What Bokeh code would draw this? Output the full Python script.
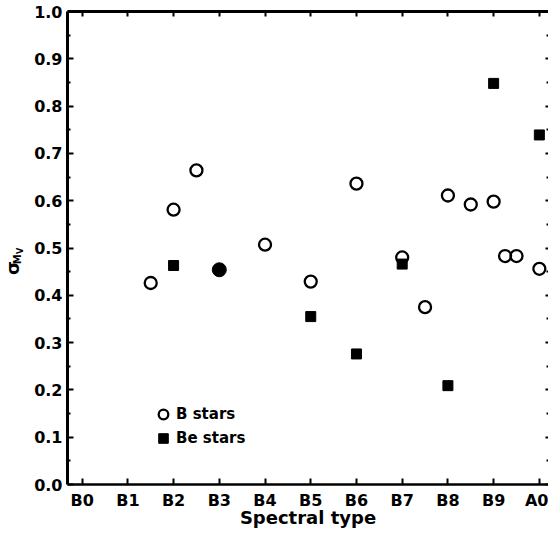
import math
from bokeh.plotting import figure
from bokeh.layouts import row
from bokeh.models import (ColumnDataSource, LinearAxis, FixedTicker, PrintfTickFormatter,
                          Legend, LegendItem, Range1d, CustomLabelingPolicy)
from bokeh.core.properties import value
from bokeh.embed import file_html
from bokeh.resources import INLINE

# ---- data ----
spectral_ticks = [0, 1, 2, 3, 4, 5, 6, 7, 8, 9, 10]
spectral_labels = ["B0", "B1", "B2", "B3", "B4", "B5", "B6", "B7", "B8", "B9", "A0"]

b_type = [1.5, 2, 2.5, 4, 5, 6, 7, 7.5, 8, 8.5, 9, 9.25, 9.5, 10]
b_sigma = [0.426, 0.581, 0.664, 0.507, 0.429, 0.636, 0.480, 0.375, 0.611, 0.592, 0.598, 0.483, 0.483, 0.456]

be_type = [2, 5, 6, 7, 8, 9, 10]
be_sigma = [0.463, 0.355, 0.276, 0.466, 0.209, 0.848, 0.739]

both_type = [3]
both_sigma = [0.454]

y_ticks = [0.0, 0.1, 0.2, 0.3, 0.4, 0.5, 0.6, 0.7, 0.8, 0.9, 1.0]
y_minor = [0.05, 0.15, 0.25, 0.35, 0.45, 0.55, 0.65, 0.75, 0.85, 0.95]

ylabel_parts = ["σ", "M", "V"]

FONT = "DejaVu Sans"
LABEL_W = 25

y_range = Range1d(0.0, 1.0)

p = figure(width=548 - LABEL_W, height=534, output_backend="svg", toolbar_location=None,
           x_range=Range1d(-0.32, 10.2), y_range=y_range,
           x_axis_location=None, y_axis_location=None,
           min_border_left=67 - LABEL_W, min_border_right=0, min_border_top=11, min_border_bottom=50)
p.outline_line_color = None
p.background_fill_color = "white"
p.border_fill_color = "white"
for g in p.grid:
    g.visible = False

no_labels = CustomLabelingPolicy(code="""
try {
  for (let i = 0; i < indices.size; i++) { indices.unset(i) }
  return indices
} catch (e) {
  return new indices.constructor(indices.size, 0)
}
""")

def style_axis(ax):
    ax.axis_line_color = "black"
    ax.major_tick_line_color = "black"
    ax.minor_tick_line_color = "black"
    ax.major_label_text_font = FONT
    ax.major_label_text_font_style = "bold"
    ax.major_label_text_color = "black"
    ax.axis_label_text_font = FONT
    ax.axis_label_text_font_style = "bold"
    ax.axis_label_text_color = "black"
    ax.major_tick_out = 0
    ax.minor_tick_out = 0

left = LinearAxis(ticker=FixedTicker(ticks=y_ticks, minor_ticks=y_minor),
                  formatter=PrintfTickFormatter(format="%.1f"))
style_axis(left)
left.axis_line_width = 3
left.major_tick_in = 6
left.minor_tick_in = 3
left.major_tick_line_width = 2
left.minor_tick_line_width = 2
left.major_label_text_font_size = "16px"
left.major_label_standoff = 5
p.add_layout(left, "left")

bottom = LinearAxis(ticker=FixedTicker(ticks=spectral_ticks, minor_ticks=[]),
                    major_label_overrides={t: l for t, l in zip(spectral_ticks, spectral_labels)},
                    axis_label="Spectral type")
style_axis(bottom)
bottom.axis_line_width = 2.5
bottom.major_tick_in = 6
bottom.major_tick_line_width = 2
bottom.major_label_text_font_size = "16px"
bottom.major_label_standoff = 6
bottom.axis_label_text_font_size = "18px"
bottom.axis_label_standoff = -6
p.add_layout(bottom, "below")

top = LinearAxis(ticker=FixedTicker(ticks=spectral_ticks, minor_ticks=[]),
                 major_label_policy=no_labels)
style_axis(top)
top.axis_line_width = 3
top.major_tick_in = 5
top.major_tick_line_width = 2
top.major_label_text_font_size = "0px"
top.major_label_standoff = 0
p.add_layout(top, "above")

right = LinearAxis(ticker=FixedTicker(ticks=y_ticks, minor_ticks=y_minor),
                   major_label_policy=no_labels)
style_axis(right)
right.axis_line_color = None
right.major_tick_in = 3
right.minor_tick_in = 2
right.major_tick_line_width = 2
right.minor_tick_line_width = 2
right.major_label_text_font_size = "0px"
right.major_label_standoff = 0
p.add_layout(right, "right")

src_b = ColumnDataSource(dict(x=b_type, y=b_sigma))
src_be = ColumnDataSource(dict(x=be_type, y=be_sigma))
src_both = ColumnDataSource(dict(x=both_type, y=both_sigma))

r_b = p.scatter("x", "y", source=src_b, marker="circle", size=12,
                fill_color=None, line_color="black", line_width=2.3)
r_be = p.scatter("x", "y", source=src_be, marker="square", size=10,
                 fill_color="black", line_color="black", line_width=1)
r_both = p.scatter("x", "y", source=src_both, marker="circle", size=14,
                   fill_color="black", line_color="black", line_width=1)

legend = Legend(items=[LegendItem(label="B stars", renderers=[r_b]),
                       LegendItem(label="Be stars", renderers=[r_be])],
                location=(84, 34), padding=0, margin=0, spacing=0,
                glyph_width=24, glyph_height=24, label_standoff=1,
                border_line_color=None, background_fill_alpha=0,
                label_text_font=FONT, label_text_font_style="bold",
                label_text_font_size="15px", label_text_color="black")
p.add_layout(legend, "center")

# ---- rotated y-axis label: sigma with subscript M_V, in a narrow side panel ----
lab = figure(width=LABEL_W, height=534, output_backend="svg", toolbar_location=None,
             x_range=Range1d(0, LABEL_W), y_range=y_range,
             x_axis_location=None, y_axis_location=None,
             min_border_left=0, min_border_right=0, min_border_top=11, min_border_bottom=50)
lab.outline_line_color = None
lab.background_fill_color = "white"
lab.border_fill_color = "white"
for g in lab.grid:
    g.visible = False
lab_src = ColumnDataSource(dict(x=[12.0, 17.0, 19.5], y=[0.458, 0.476, 0.494],
                                text=ylabel_parts, size=["18px", "10px", "8px"]))
lab.text("x", "y", text="text", source=lab_src, angle=math.pi / 2,
         text_align="center", text_baseline="middle", text_font=value(FONT),
         text_font_style="bold", text_font_size="size", text_color="black")

layout = row(lab, p, spacing=0)
open("out.html", "w").write(file_html(layout, INLINE))
